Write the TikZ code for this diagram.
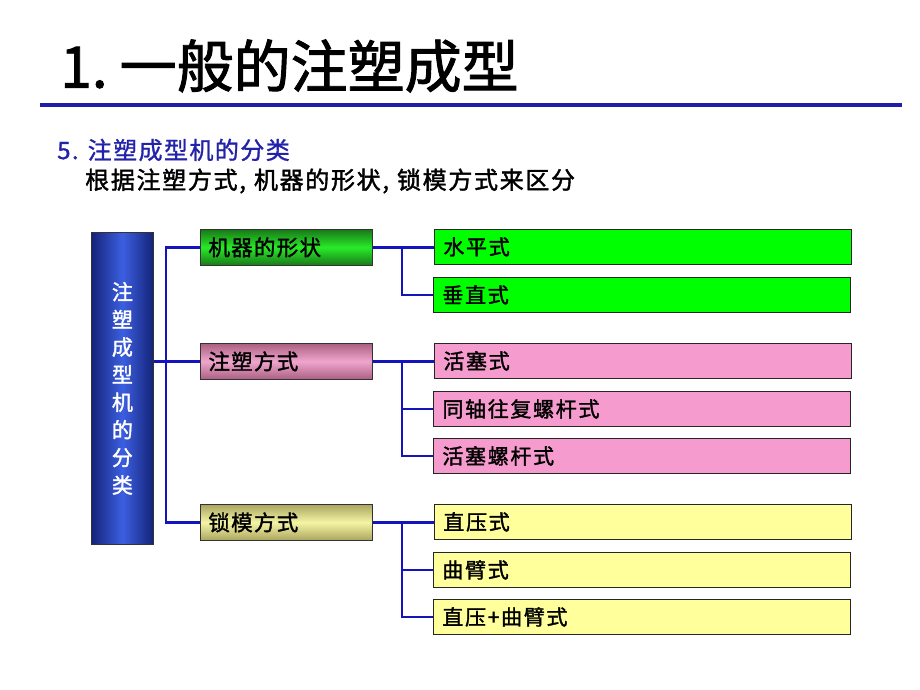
\documentclass[tikz,border=0pt]{standalone}
\usepackage{fontspec}
\setmainfont{Noto Sans CJK SC}[FakeBold=1.2]
\newfontfamily\heavy{Noto Sans CJK SC}[FakeBold=1.6]
\definecolor{lineblue}{RGB}{20,20,190}
\definecolor{titleblue}{RGB}{30,30,170}
\definecolor{subblue}{RGB}{35,35,170}
\definecolor{tdark}{RGB}{20,35,120}
\definecolor{tlight}{RGB}{60,95,225}
\definecolor{gdark}{RGB}{25,120,25}
\definecolor{glight}{RGB}{40,235,40}
\definecolor{pdark}{RGB}{170,95,130}
\definecolor{plight}{RGB}{240,165,205}
\definecolor{ydark}{RGB}{170,165,95}
\definecolor{ylight}{RGB}{245,245,165}
\definecolor{rgreen}{RGB}{0,255,0}
\definecolor{rpink}{RGB}{245,155,205}
\definecolor{ryellow}{RGB}{255,255,155}
\begin{document}
\begin{tikzpicture}[x=1pt,y=-1pt,
  conn/.style={draw=lineblue, line width=2.6pt},
  midbox/.style={draw=black!80, line width=0.8pt, anchor=north west, minimum height=36pt,
     text width=156pt, inner xsep=8pt, align=left, font=\heavy\fontsize{21.5}{23}\selectfont\addfontfeature{LetterSpace=6}},
  rbox/.style={draw=black!85, line width=0.8pt, anchor=north west, minimum height=35pt,
     text width=399pt, inner xsep=9pt, align=left, font=\heavy\fontsize{21}{22}\selectfont\addfontfeature{LetterSpace=8}}]
\useasboundingbox (0,0) rectangle (920,690);
\fill[white] (0,0) rectangle (920,690);
% title
\node[anchor=west, inner sep=0pt, font=\heavy\fontsize{57}{60}\selectfont] (title) at (60,66) {1.\hspace{12pt}一般的注塑成型};
\coordinate (tl1) at (40,105);
\coordinate (tl2) at (902,105);
\draw[titleblue, line width=3.5pt] (tl1) -- (tl2);
\node[anchor=west, inner sep=0pt, text=subblue, font=\fontsize{24}{26}\selectfont\addfontfeature{LetterSpace=6}] (sub) at (57,150) {5. 注塑成型机的分类};
\node[anchor=west, inner sep=0pt, font=\heavy\fontsize{24}{26}\selectfont\addfontfeature{LetterSpace=7}] (desc) at (85,181) {根据注塑方式,\hspace{8pt}机器的形状,\hspace{8pt}锁模方式来区分};
% tall box
\node[draw=black!80, line width=0.8pt, anchor=north west, minimum width=62pt, minimum height=312pt,
      left color=tdark, right color=tdark, middle color=tlight, inner sep=0pt,
      text=white, align=center, font=\heavy\fontsize{21}{27.6}\selectfont] (T) at (91,232)
      {注\\塑\\成\\型\\机\\的\\分\\类};
% mid boxes
\node[midbox, top color=gdark, bottom color=gdark, middle color=glight] (m1) at (200,229) {机器的形状};
\node[midbox, top color=pdark, bottom color=pdark, middle color=plight] (m2) at (200,343) {注塑方式};
\node[midbox, top color=ydark, bottom color=ydark, middle color=ylight] (m3) at (200,504) {锁模方式};
% right boxes
\node[rbox, fill=rgreen] (r1) at (434,229) {水平式};
\node[rbox, fill=rgreen] (r2) at (433,277) {垂直式};
\node[rbox, fill=rpink] (r3) at (434,343) {活塞式};
\node[rbox, fill=rpink] (r4) at (433,391) {同轴往复螺杆式};
\node[rbox, fill=rpink] (r5) at (433,438) {活塞螺杆式};
\node[rbox, fill=ryellow] (r6) at (434,504) {直压式};
\node[rbox, fill=ryellow] (r7) at (433,552) {曲臂式};
\node[rbox, fill=ryellow] (r8) at (433,599) {直压+曲臂式};
% connectors left
\draw[conn] (m1.west) -- ++(-34,0) |- (m3.west);
\draw[conn] (T.east |- m2.west) -- (m2.west);
% connectors right
\draw[conn] (m1.east) -- (m1.east -| r1.west);
\draw[conn] (m1.east) -- ++(29,0) |- (r2.west);
\draw[conn] (m2.east) -- (m2.east -| r3.west);
\draw[conn] (m2.east) -- ++(29,0) |- (r4.west);
\draw[conn] (m2.east) -- ++(29,0) |- (r5.west);
\draw[conn] (m3.east) -- (m3.east -| r6.west);
\draw[conn] (m3.east) -- ++(29,0) |- (r7.west);
\draw[conn] (m3.east) -- ++(29,0) |- (r8.west);
\end{tikzpicture}
\end{document}
